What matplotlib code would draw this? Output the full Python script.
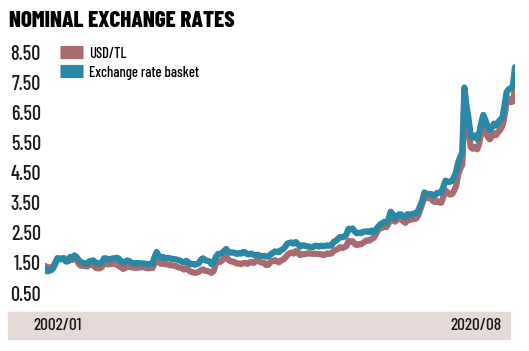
import matplotlib
matplotlib.use("Agg")
import matplotlib.pyplot as plt
import pandas as pd
from matplotlib.patches import Rectangle

# monthly values, 2002/01 .. 2020/08
usd_tl = [
    1.40, 1.36, 1.35, 1.33, 1.38, 1.52, 1.66, 1.64, 1.65, 1.66, 1.55, 1.55,
    1.65, 1.60, 1.68, 1.62, 1.48, 1.41, 1.40, 1.40, 1.38, 1.43, 1.45, 1.42,
    1.34, 1.32, 1.32, 1.36, 1.50, 1.49, 1.45, 1.46, 1.49, 1.47, 1.45, 1.40,
    1.35, 1.30, 1.33, 1.38, 1.37, 1.36, 1.34, 1.34, 1.34, 1.35, 1.36, 1.35,
    1.33, 1.32, 1.34, 1.33, 1.48, 1.62, 1.53, 1.47, 1.50, 1.46, 1.45, 1.43,
    1.42, 1.41, 1.40, 1.36, 1.34, 1.32, 1.28, 1.33, 1.27, 1.21, 1.19, 1.17,
    1.18, 1.20, 1.26, 1.28, 1.24, 1.23, 1.20, 1.17, 1.23, 1.45, 1.58, 1.53,
    1.58, 1.67, 1.70, 1.60, 1.56, 1.54, 1.52, 1.48, 1.48, 1.46, 1.49, 1.50,
    1.47, 1.51, 1.53, 1.50, 1.55, 1.59, 1.53, 1.51, 1.50, 1.43, 1.44, 1.53,
    1.56, 1.59, 1.56, 1.52, 1.58, 1.61, 1.67, 1.76, 1.82, 1.84, 1.81, 1.89,
    1.85, 1.76, 1.79, 1.79, 1.80, 1.82, 1.81, 1.80, 1.80, 1.80, 1.79, 1.79,
    1.76, 1.78, 1.81, 1.80, 1.82, 1.90, 1.93, 1.97, 2.02, 1.99, 2.02, 2.06,
    2.23, 2.21, 2.22, 2.13, 2.09, 2.12, 2.12, 2.17, 2.22, 2.25, 2.24, 2.30,
    2.33, 2.45, 2.59, 2.66, 2.66, 2.70, 2.69, 2.80, 3.02, 2.93, 2.87, 2.92,
    2.98, 2.95, 2.88, 2.83, 2.93, 2.92, 2.95, 2.96, 2.97, 3.07, 3.27, 3.47,
    3.73, 3.68, 3.65, 3.66, 3.56, 3.52, 3.55, 3.51, 3.50, 3.70, 3.90, 3.84,
    3.77, 3.78, 3.88, 4.04, 4.41, 4.63, 4.75, 6.85, 6.20, 5.83, 5.34, 5.29,
    5.35, 5.27, 5.45, 5.80, 6.05, 5.85, 5.70, 5.60, 5.70, 5.80, 5.74, 5.85,
    5.92, 6.05, 6.35, 6.85, 6.95, 6.84, 6.86, 7.30,
]
basket = [
    1.32, 1.22, 1.24, 1.26, 1.33, 1.49, 1.65, 1.62, 1.63, 1.64, 1.55, 1.57,
    1.70, 1.66, 1.75, 1.69, 1.60, 1.53, 1.50, 1.48, 1.47, 1.55, 1.57, 1.58,
    1.51, 1.49, 1.47, 1.50, 1.65, 1.65, 1.62, 1.62, 1.65, 1.65, 1.67, 1.64,
    1.56, 1.50, 1.54, 1.58, 1.56, 1.51, 1.47, 1.49, 1.49, 1.49, 1.48, 1.48,
    1.47, 1.45, 1.47, 1.48, 1.69, 1.86, 1.74, 1.68, 1.70, 1.65, 1.66, 1.66,
    1.63, 1.63, 1.62, 1.60, 1.58, 1.54, 1.52, 1.57, 1.52, 1.46, 1.47, 1.44,
    1.46, 1.49, 1.61, 1.65, 1.59, 1.57, 1.55, 1.46, 1.50, 1.69, 1.79, 1.80,
    1.83, 1.90, 1.96, 1.86, 1.84, 1.85, 1.83, 1.80, 1.82, 1.81, 1.86, 1.85,
    1.79, 1.79, 1.81, 1.76, 1.75, 1.77, 1.74, 1.73, 1.73, 1.71, 1.71, 1.78,
    1.83, 1.88, 1.87, 1.86, 1.92, 1.96, 2.03, 2.14, 2.16, 2.18, 2.14, 2.19,
    2.12, 2.04, 2.08, 2.08, 2.05, 2.05, 2.02, 2.02, 2.06, 2.07, 2.04, 2.07,
    2.05, 2.07, 2.08, 2.07, 2.09, 2.20, 2.23, 2.30, 2.36, 2.35, 2.37, 2.44,
    2.63, 2.62, 2.64, 2.54, 2.48, 2.50, 2.49, 2.53, 2.54, 2.55, 2.52, 2.57,
    2.52, 2.61, 2.69, 2.77, 2.82, 2.86, 2.83, 2.95, 3.20, 3.11, 2.97, 3.05,
    3.11, 3.11, 3.04, 3.01, 3.12, 3.10, 3.11, 3.14, 3.15, 3.22, 3.40, 3.56,
    3.84, 3.79, 3.78, 3.79, 3.76, 3.73, 3.82, 3.83, 3.83, 4.03, 4.23, 4.19,
    4.19, 4.22, 4.33, 4.51, 4.81, 5.02, 5.15, 7.32, 6.70, 6.27, 5.70, 5.66,
    5.73, 5.61, 5.80, 6.15, 6.41, 6.23, 6.04, 5.91, 5.99, 6.12, 6.06, 6.17,
    6.25, 6.32, 6.70, 7.16, 7.26, 7.29, 7.38, 8.00,
]
dates = pd.date_range("2002-01-01", periods=len(usd_tl), freq="MS")
y_ticks = [0.5, 1.5, 2.5, 3.5, 4.5, 5.5, 6.5, 7.5, 8.5]

pink = "#a96b6f"
blue = "#2a88a5"
ink = "#1a1a1a"
plt.rcParams["font.family"] = ["Barlow Condensed", "DejaVu Sans"]
plt.rcParams["font.weight"] = 500

fig = plt.figure(figsize=(5.29, 3.51), dpi=100)
ax = fig.add_axes([0.0851, 0.1652, 0.8885, 0.6866])

ax.plot(dates, usd_tl, color=pink, lw=4.5, solid_capstyle="round", label="USD/TL")
ax.plot(dates, basket, color=blue, lw=4.5, solid_capstyle="round", label="Exchange rate basket")

ax.set_xlim(dates[0], dates[-1])
ax.set_ylim(0.5, 8.5)
ax.set_yticks(y_ticks)
ax.set_yticklabels([f"{v:.2f}" for v in y_ticks], fontsize=14.5, color=ink)
ax.tick_params(axis="y", length=0, pad=3)
ax.set_xticks([])
for s in ax.spines.values():
    s.set_visible(False)
ax.patch.set_alpha(0)

leg = ax.legend(loc="upper left", bbox_to_anchor=(0.032, 1.024), frameon=False,
                fontsize=10.5, handlelength=1.6, handleheight=1.0, borderpad=0,
                handletextpad=0.4, labelspacing=0.3, borderaxespad=0)
for h in leg.legend_handles:
    h.set_linewidth(9.5)
    h.set_solid_capstyle("butt")

fig.text(0.017, 0.968, "NOMINAL EXCHANGE RATES", fontsize=16.5, fontweight=800,
         color="#000000", va="top", ha="left")

fig.patches.append(Rectangle((8 / 529, 12 / 351), 502 / 529, 27 / 351,
                             transform=fig.transFigure, color="#e6dad9", zorder=0))
fig.text(57.5 / 529, 25.5 / 351, "2002/01", fontsize=12.5, color=ink, ha="center", va="center")
fig.text(476 / 529, 25.5 / 351, "2020/08", fontsize=12.5, color=ink, ha="center", va="center")

fig.savefig("out.png", dpi=100)
